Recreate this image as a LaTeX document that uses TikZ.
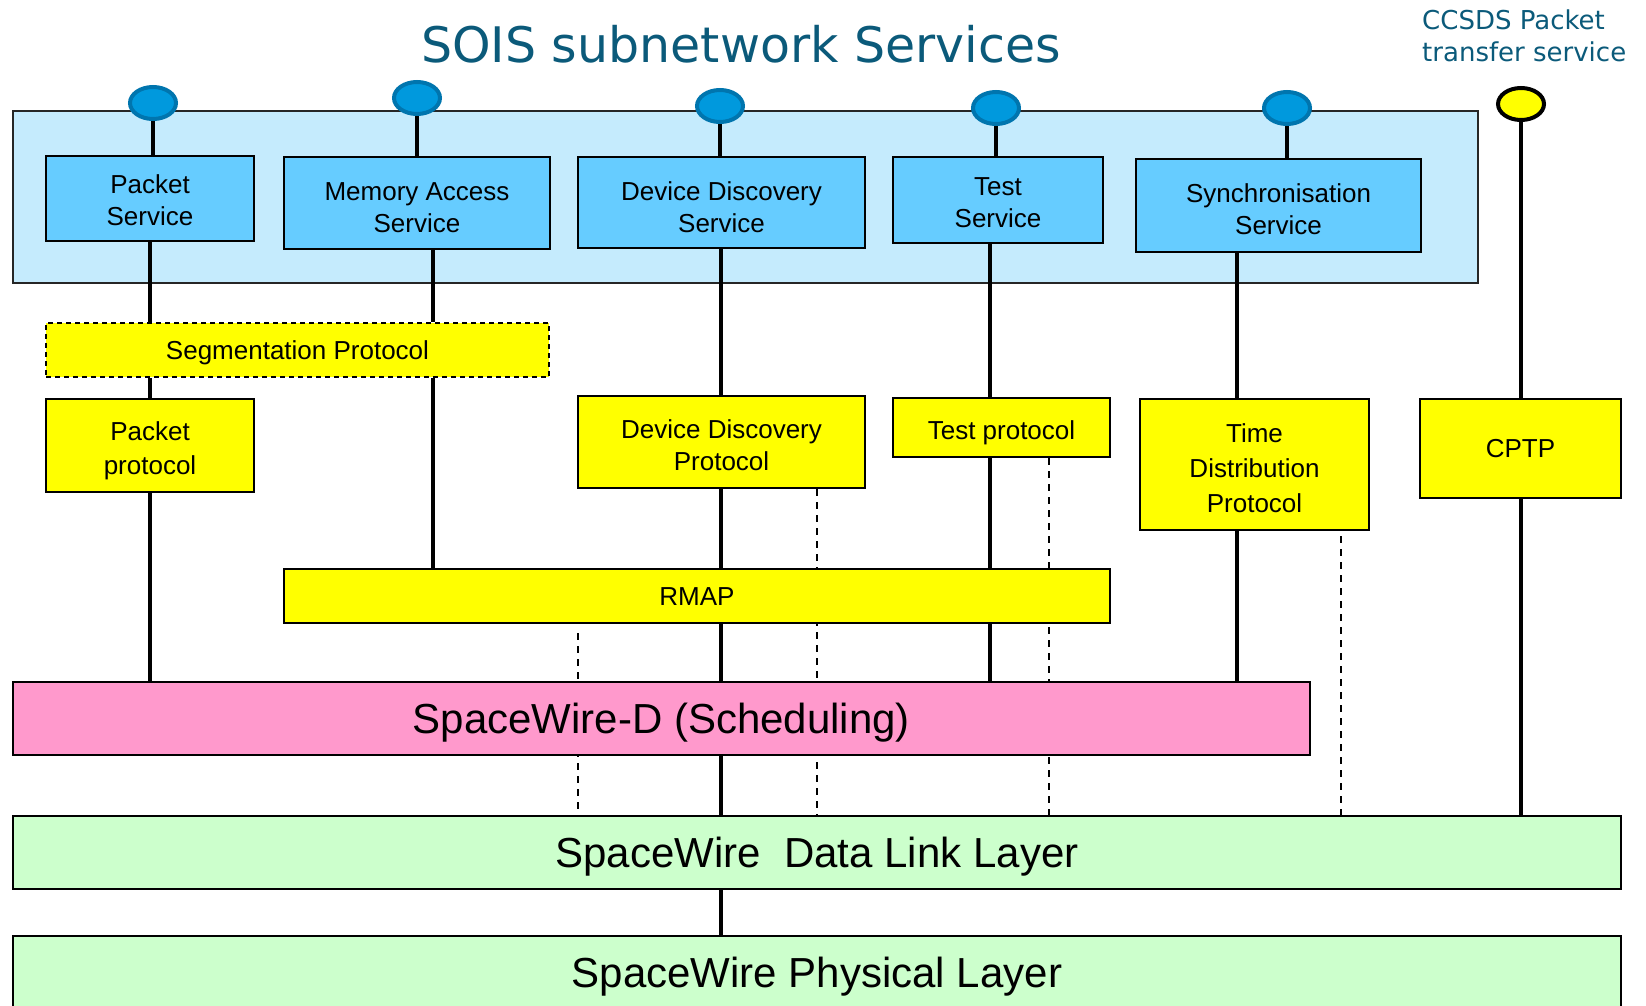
\documentclass[tikz,border=0pt]{standalone}
\usepackage{fontspec}
\setmainfont{Liberation Sans}
\newfontfamily\titlefamily{DejaVu Sans}
\usetikzlibrary{shapes.geometric}

\definecolor{paneblue}{HTML}{C5EBFD}
\definecolor{svcblue}{HTML}{66CCFF}
\definecolor{pinfill}{HTML}{0099DD}
\definecolor{pinedge}{HTML}{0075AE}
\definecolor{protyellow}{HTML}{FFFF00}
\definecolor{schedpink}{HTML}{FF99CC}
\definecolor{layergreen}{HTML}{CCFFCC}
\definecolor{titleteal}{HTML}{0B5A7A}

% raises the first line of a multi-line label so the block sits a little lower
\newcommand\firstline[1]{\rule{0pt}{#1}}

\pgfdeclarelayer{panel}
\pgfdeclarelayer{wires}
\pgfsetlayers{panel,wires,main}

\begin{document}
\begin{tikzpicture}[x=1pt,y=-1pt,
  box/.style={draw=black, line width=2pt, inner sep=0pt, align=center,
              font=\fontsize{26}{32}\selectfont},
  svc/.style={box, fill=svcblue},
  prot/.style={box, fill=protyellow},
  oneline/.style={text height=18.6pt, text depth=0pt},
  layerbox/.style={box, font=\fontsize{42}{50}\selectfont,
              text height=30pt, text depth=0pt},
  pin/.style={ellipse, draw=pinedge, fill=pinfill, line width=4pt,
              minimum width=46pt, minimum height=32pt, inner sep=0pt},
  link/.style={line width=4.5pt},
  tap/.style={line width=1.5pt, dash pattern=on 7pt off 6pt}]

\useasboundingbox (0,0) rectangle (1646,1006);

% headings
\node[font=\titlefamily\fontsize{49}{58}\selectfont, text=titleteal,
      anchor=base, inner sep=0pt] (title) at (741,63) {SOIS subnetwork Services};
\node[font=\titlefamily\fontsize{26}{31.7}\selectfont, text=titleteal,
      align=left, anchor=west, inner sep=0pt] (ccsds) at (1422,36)
      {CCSDS Packet\\transfer service};

% subnetwork services panel
\begin{pgfonlayer}{panel}
\node[draw=black!85, line width=2pt, fill=paneblue, inner sep=0pt,
      minimum width=1465pt, minimum height=172pt] (pane) at (745.5,197) {};
\end{pgfonlayer}

% services
\node[svc, minimum width=208pt, minimum height=85pt] (psvc) at (150,198.5) {\firstline{22.6pt}Packet\\Service};
\node[svc, minimum width=266pt, minimum height=92pt] (msvc) at (417,203) {\firstline{27.6pt}Memory Access\\Service};
\node[svc, minimum width=287pt, minimum height=91pt] (dsvc) at (721.5,202.5) {\firstline{27.6pt}Device Discovery\\Service};
\node[svc, minimum width=210pt, minimum height=86pt] (tsvc) at (998,200) {\firstline{22.6pt}Test\\Service};
\node[svc, minimum width=285pt, minimum height=93pt] (ssvc) at (1278.5,205.5) {\firstline{26.6pt}Synchronisation\\Service};

% protocols
\node[prot, oneline, dashed, dash pattern=on 5pt off 4pt, minimum width=503pt, minimum height=54pt] (seg) at (297.5,350) {Segmentation Protocol};
\node[prot, font=\fontsize{26}{33.5}\selectfont, minimum width=208pt, minimum height=93pt] (pprot) at (150,445.5) {\firstline{29pt}Packet\\protocol};
\node[prot, minimum width=287pt, minimum height=92pt] (ddp) at (721.5,442) {\firstline{24.6pt}Device Discovery\\Protocol};
\node[prot, oneline, text height=24.6pt, minimum width=217pt, minimum height=59pt] (tprot) at (1001.5,427.5) {Test protocol};
\node[prot, font=\fontsize{26}{35}\selectfont, minimum width=229pt, minimum height=131pt] (tdp) at (1254.5,464.5) {\firstline{25.6pt}Time\\Distribution\\Protocol};
\node[prot, oneline, minimum width=201pt, minimum height=99pt] (cptp) at (1520.5,448.5) {CPTP};
\node[prot, oneline, minimum width=826pt, minimum height=54pt] (rmap) at (697,596) {RMAP};

% SpaceWire layers
\node[layerbox, fill=schedpink, minimum width=1297pt, minimum height=73pt] (spwd) at (661.5,718.5) {SpaceWire-D (Scheduling)};
\node[layerbox, fill=layergreen, minimum width=1608pt, minimum height=73pt] (dl) at (817,852.5) {SpaceWire\ \ Data Link Layer};
\node[layerbox, fill=layergreen, minimum width=1608pt, minimum height=73pt] (phys) at (817,972.5) {SpaceWire Physical Layer};

% service access points
\node[pin] (pinA) at (153,103) {};
\node[pin] (pinM) at (417,98) {};
\node[pin] (pinD) at (720,106) {};
\node[pin] (pinT) at (996,108) {};
\node[pin] (pinS) at (1287,108) {};
\node[pin, draw=black, fill=protyellow] (pinC) at (1521,104) {};

% columns of the protocol stacks
\coordinate (colA) at (150,0);
\coordinate (colM) at (433,0);
\coordinate (colD) at (721,0);
\coordinate (colT) at (990,0);
\coordinate (colS) at (1237,0);
\coordinate (colC) at (1521,0);
\coordinate (tapR) at (578,0);
\coordinate (tapD) at (817,0);
\coordinate (tapT) at (1049,0);
\coordinate (tapS) at (1341,0);

\begin{pgfonlayer}{wires}
% stems of the access points
\draw[link] (pinA.south) -- (pinA.south |- psvc.north);
\draw[link] (pinM.south) -- (pinM.south |- msvc.north);
\draw[link] (pinD.south) -- (pinD.south |- dsvc.north);
\draw[link] (pinT.south) -- (pinT.south |- tsvc.north);
\draw[link] (pinS.south) -- (pinS.south |- ssvc.north);
\draw[link] (pinC.south) -- (pinC.south |- cptp.north);
% packet service stack
\draw[link] (colA |- psvc.south) -- (colA |- seg.north);
\draw[link] (colA |- seg.south) -- (colA |- pprot.north);
\draw[link] (colA |- pprot.south) -- (colA |- spwd.north);
% memory access stack
\draw[link] (colM |- msvc.south) -- (colM |- seg.north);
\draw[link] (colM |- seg.south) -- (colM |- rmap.north);
% device discovery stack
\draw[link] (colD |- dsvc.south) -- (colD |- ddp.north);
\draw[link] (colD |- ddp.south) -- (colD |- rmap.north);
\draw[link] (colD |- rmap.south) -- (colD |- spwd.north);
\draw[link] (colD |- spwd.south) -- (colD |- dl.north);
\draw[link] (colD |- dl.south) -- (colD |- phys.north);
% test stack
\draw[link] (colT |- tsvc.south) -- (colT |- tprot.north);
\draw[link] (colT |- tprot.south) -- (colT |- rmap.north);
\draw[link] (colT |- rmap.south) -- (colT |- spwd.north);
% synchronisation stack
\draw[link] (colS |- ssvc.south) -- (colS |- tdp.north);
\draw[link] (colS |- tdp.south) -- (colS |- spwd.north);
% packet transfer
\draw[link] (colC |- cptp.south) -- (colC |- dl.north);
% direct paths to the data link layer
\draw[tap, shorten <=9pt] (tapR |- rmap.south) -- (tapR |- dl.north);
\draw[tap] (tapD |- ddp.south) -- (tapD |- dl.north);
\draw[tap] (tapT |- tprot.south) -- (tapT |- dl.north);
\draw[tap, shorten <=5pt] (tapS |- tdp.south) -- (tapS |- dl.north);
\end{pgfonlayer}
\end{tikzpicture}
\end{document}
